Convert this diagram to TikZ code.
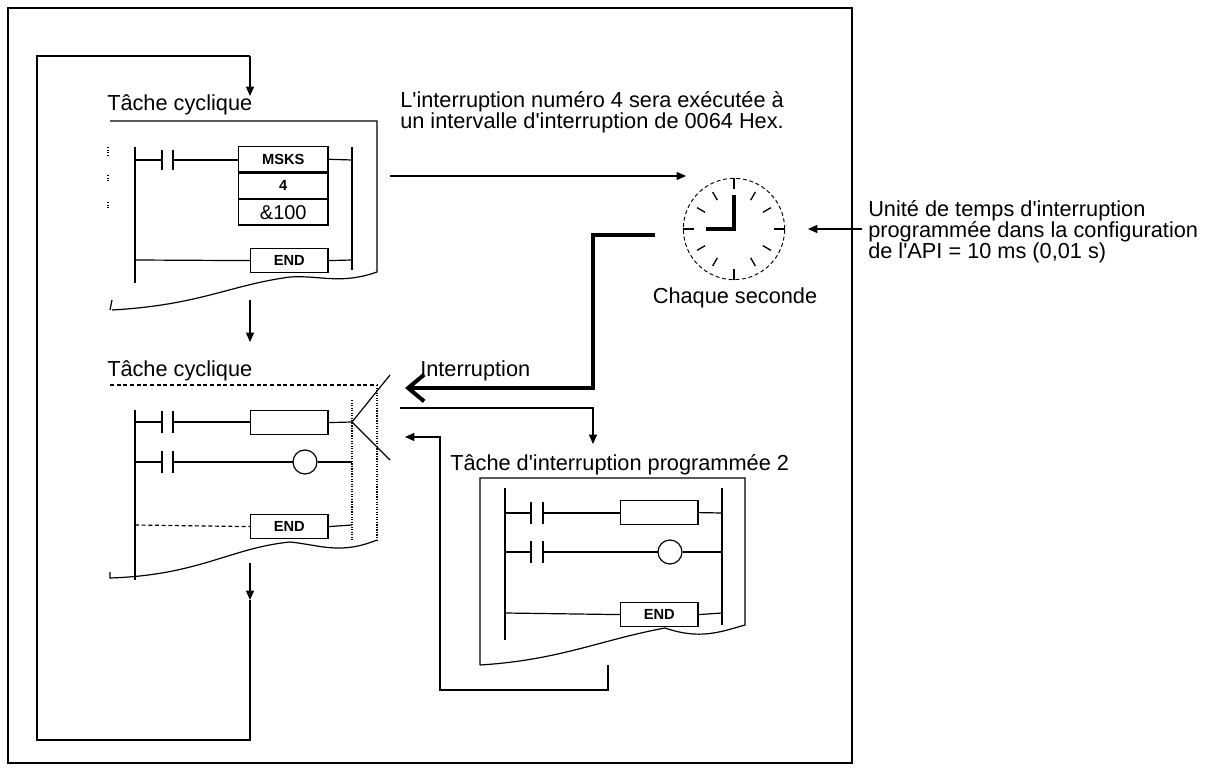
\documentclass[tikz,border=0pt]{standalone}
\usepackage{fontspec}
\setmainfont{Liberation Sans}[Ligatures=TeXOff]
\usetikzlibrary{arrows.meta}
\newcommand{\ap}{'}
\begin{document}
\begin{tikzpicture}[x=0.75pt,y=-0.75pt,
  ln/.style={line width=0.9pt},
  thk/.style={line width=3pt},
  arr/.style={ln,-{Triangle[length=7pt,width=6pt]}},
  lbl/.style={inner sep=0pt,font=\fontsize{16.3}{19}\selectfont},
  box/.style={draw,ln,minimum width=58pt,minimum height=18pt,inner sep=1pt,font=\bfseries\fontsize{11}{13}\selectfont},
  coil/.style={draw,ln,circle,minimum size=18pt,inner sep=0pt}]
\useasboundingbox (0,0) rectangle (1223,773);
\draw[line width=1.3pt] (8,8) rectangle (852,763);
% left loop
\coordinate (l1) at (250,56); \coordinate (l2) at (250,96);
\draw[ln] (l1) -- (37,56) -- (37,740) -- (250,740) -- (250,600);
\draw[arr] (l1) -- (l2);
% block 1
\node[lbl,anchor=base west] (t1) at (107,111) {Tâche cyclique};
\draw[ln] (110,121) -- (377,121) -- (377,272) .. controls (340,285) and (320,275) .. (290,277) .. controls (230,285) and (200,305) .. (112,310);
\draw[ln] (135,147) -- (135,283);
\draw[ln] (352,147) -- (352,270);
\draw[ln] (135,160) -- (162,160) (162,150) -- (162,170) (173,150) -- (173,170) (173,160) -- (238,160);
\node[box,anchor=north west,minimum width=67pt,minimum height=19pt] (m1) at (238,146) {MSKS};
\node[box,anchor=north,minimum width=67pt,minimum height=19pt] (m2) at (m1.south) {4};
\node[box,anchor=north,minimum width=67pt,minimum height=19pt,font=\fontsize{15}{17}\selectfont] (m3) at (m2.south) {\&100};
\draw[ln] (m1.east) -- (352,160);
\node[box,anchor=north west] (e1) at (250,248) {END};
\draw[ln] (135,260) -- (e1.west) (e1.east) -- (352,260);
\draw[ln,densely dotted] (108,147) -- (108,156) (108,175) -- (108,181) (108,202) -- (108,208);
\coordinate (a1) at (250,300); \coordinate (a2) at (250,342);
\draw[arr] (a1) -- (a2);
\draw[ln] (110,310) -- (112,300);
% block 2
\node[lbl,anchor=base west] (t2) at (107,376) {Tâche cyclique};
\draw[ln,densely dashed] (110,385) -- (377,385);
\draw[ln,densely dotted] (377,385) -- (377,540);
\draw[ln] (377,540) .. controls (340,555) and (320,545) .. (290,542) .. controls (230,548) and (200,575) .. (110,578) -- (110,572);
\draw[ln] (135,410) -- (135,580);
\draw[ln,densely dotted] (352,400) -- (352,540);
\draw[ln] (135,422) -- (162,422) (162,411) -- (162,433) (173,411) -- (173,433) (173,422) -- (250,422);
\node[box,anchor=north west] (b2) at (250,410) {};
\draw[ln] (b2.east) -- (352,422);
\draw[ln] (135,462) -- (162,462) (162,451) -- (162,473) (173,451) -- (173,473) (173,462) -- (293,462);
\node[coil] (c2) at (305,462) {};
\draw[ln] (c2.east) -- (352,462);
\node[box,anchor=north west] (e2) at (250,514) {END};
\draw[ln,densely dashed] (135,525) -- (e2.west); \draw[ln] (e2.east) -- (352,525);
\draw[ln] (390,375) -- (352,422) -- (390,460);
\coordinate (a3) at (250,563); \coordinate (a4) at (250,600);
\draw[arr] (a3) -- (a4);
\draw[ln,densely dotted] (250,600) -- (250,740);
% message arrow
\coordinate (s1) at (390,176); \coordinate (s2) at (686,176);
\draw[arr] (s1) -- (s2);
\node[lbl,anchor=base west] (msg) at (400,108) {L\ap interruption numéro 4 sera exécutée à};
\node[lbl,anchor=base west] (msg2) at (400,129) {un intervalle d\ap interruption de 0064 Hex.};
% clock
\node[draw,circle,densely dashed,line width=0.7pt,minimum size=76pt,inner sep=0pt] (clk) at (734,229) {};
\foreach \a in {0,90,180,270}{\draw[line width=1pt] (clk.center) ++(\a:38pt) -- ++(\a:-8pt);}
\foreach \a in {30,60,120,150,210,240,300,330}{\draw[line width=1pt] (clk.center) ++(-\a:32pt) -- ++(-\a:-7pt);}
\draw[line width=3pt] (734,195) -- (734,229) -- (706,229);
\node[lbl,anchor=base] (cs) at (735,304) {Chaque seconde};
\coordinate (u1) at (862,229); \coordinate (u2) at (808,229);
\draw[arr] (u1) -- (u2);
\node[lbl,anchor=base west] (u) at (868,217) {Unité de temps d\ap interruption};
\node[lbl,anchor=base west] at (868,238) {programmée dans la configuration};
\node[lbl,anchor=base west] at (868,259) {de l\ap API = 10 ms (0,01 s)};
% interruption
\coordinate (i1) at (655,235); \coordinate (i2) at (405,388);
\draw[thk,-{Straight Barb[length=12pt,width=20pt,line width=3pt]}] (i1) -- (593,235) -- (593,388) -- (i2);
\node[lbl,anchor=base west] (it) at (420,376) {Interruption};
\coordinate (j1) at (400,408); \coordinate (j2) at (593,444);
\draw[arr] (j1) -- (593,408) -- (j2);
\coordinate (k1) at (608,665); \coordinate (k2) at (405,437);
\draw[arr] (k1) -- (608,690) -- (440,690) -- (440,437) -- (k2);
% interrupt task
\node[lbl,anchor=base west] (t3) at (450,470) {Tâche d\ap interruption programmée 2};
\draw[ln] (480,665) -- (480,478) -- (745,478) -- (745,625) .. controls (720,632) and (700,640) .. (665,628) .. controls (600,640) and (560,660) .. (480,665);
\draw[ln] (505,488) -- (505,640);
\draw[ln] (722,488) -- (722,625);
\draw[ln] (505,513) -- (531,513) (531,502) -- (531,524) (543,502) -- (543,524) (543,513) -- (620,513);
\node[box,anchor=north west] (b3) at (620,500) {};
\draw[ln] (b3.east) -- (722,513);
\draw[ln] (505,552) -- (531,552) (531,541) -- (531,563) (543,541) -- (543,563) (543,552) -- (658,552);
\node[coil] (c3) at (670,552) {};
\draw[ln] (c3.east) -- (722,552);
\node[box,anchor=north west] (e3) at (620,602) {END};
\draw[ln] (505,613) -- (e3.west) (e3.east) -- (722,613);
\end{tikzpicture}
\end{document}
